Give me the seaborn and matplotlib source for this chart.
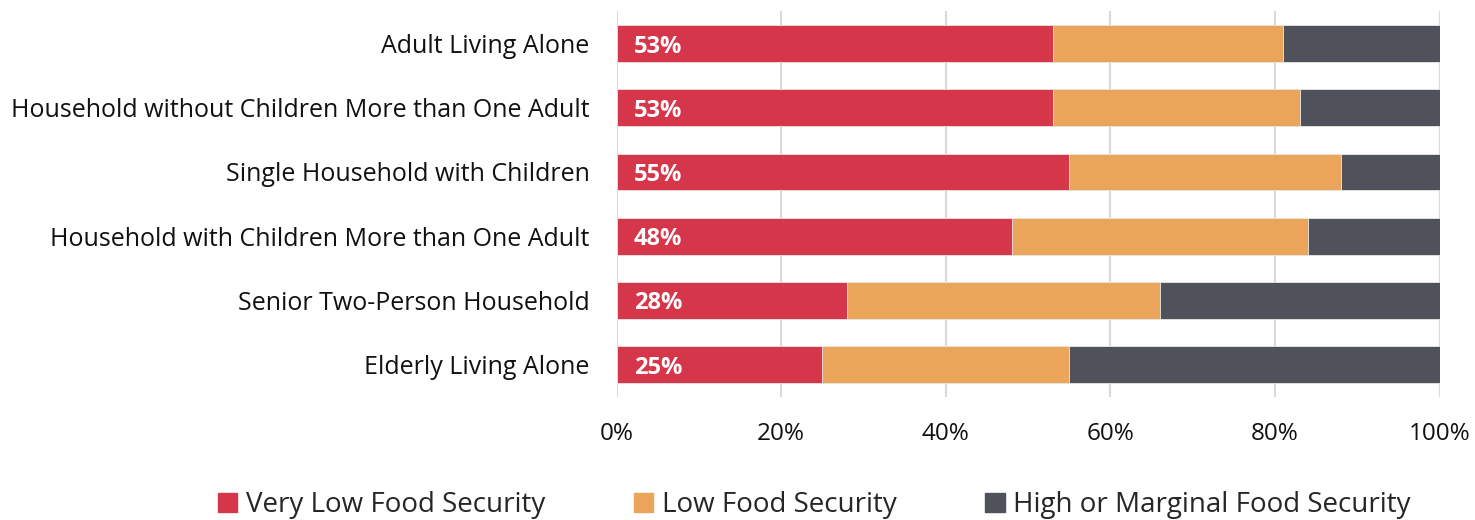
import matplotlib
matplotlib.use("Agg")
import matplotlib.pyplot as plt
import seaborn as sns
import numpy as np
import pandas as pd

categories = [
    "Adult Living Alone",
    "Household without Children More than One Adult",
    "Single Household with Children",
    "Household with Children More than One Adult",
    "Senior Two-Person Household",
    "Elderly Living Alone",
]
very_low = [53, 53, 55, 48, 28, 25]
low = [28, 30, 33, 36, 38, 30]
high_marginal = [19, 17, 12, 16, 34, 45]

series_names = ["Very Low Food Security", "Low Food Security", "High or Marginal Food Security"]
colors = ["#D63649", "#EBA55A", "#4F525B"]
x_ticks = [0, 20, 40, 60, 80, 100]

sns.set_theme(style="white")
plt.rcParams["font.family"] = ["Open Sans", "DejaVu Sans"]

fig = plt.figure(figsize=(14.75, 5.2), dpi=100)
ax = fig.add_axes([0.418, 0.237, 0.558, 0.741])

df = pd.DataFrame({"category": categories, "very_low": very_low,
                   "low": low, "high": high_marginal})
df["c1"] = df["very_low"]
df["c2"] = df["very_low"] + df["low"]
df["c3"] = df["c2"] + df["high"]

# stacked bars drawn back to front from cumulative totals
for col, color in zip(["c3", "c2", "c1"], colors[::-1]):
    sns.barplot(data=df, x=col, y="category", color=color, orient="h",
                width=0.575, ax=ax, edgecolor="#E8E8E8", linewidth=0.6,
                saturation=1)

for i, v in enumerate(very_low):
    ax.text(2.1, i, f"{v}%", color="white", fontsize=17, fontweight="bold",
            va="center_baseline", ha="left")

ax.set_xlim(0, 100)
ax.set_ylim(5.5, -0.5)
ax.set_xticks(x_ticks)
ax.set_xticklabels([f"{t}%" for t in x_ticks])
ax.xaxis.grid(True, color="#D9D9D9", linewidth=1.5)
ax.yaxis.grid(False)
ax.set_axisbelow(True)
for s in ax.spines.values():
    s.set_visible(False)
ax.set_xlabel("")
ax.set_ylabel("")
ax.tick_params(axis="x", length=0, pad=18, labelsize=17.5, colors="#111111")
ax.tick_params(axis="y", length=0, pad=19.5, labelsize=18, colors="#111111")

handles = [plt.Rectangle((0, 0), 1, 1, color=c) for c in colors]
fig.legend(handles, series_names, loc="center", bbox_to_anchor=(0.552, 0.028),
           ncol=3, frameon=False, fontsize=20, handlelength=0.7,
           handleheight=0.7, handletextpad=0.3, columnspacing=3.2)

fig.savefig("out.png", dpi=100)
